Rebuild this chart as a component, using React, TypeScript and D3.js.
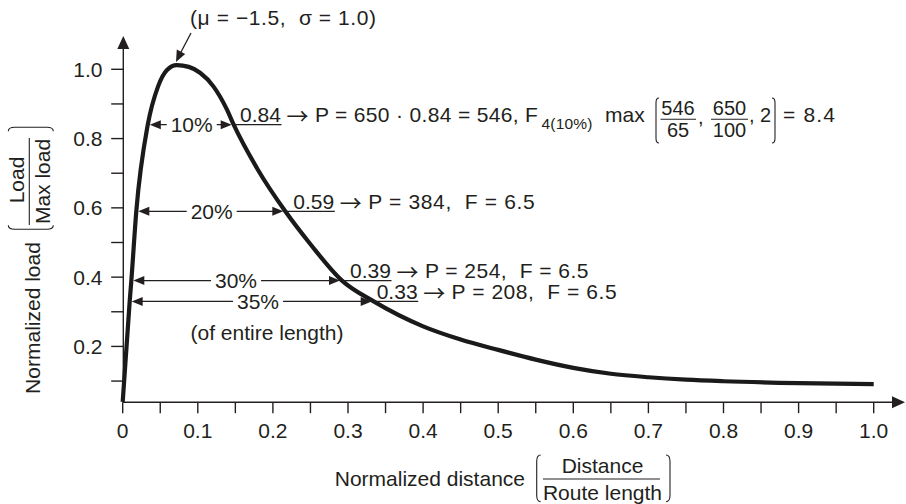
import React from 'react';
import * as d3 from 'd3';

// ---------- data ----------
const curveX = [0, 0.0093, 0.0115, 0.0181, 0.0334, 0.047, 0.059, 0.072, 0.088, 0.103, 0.121, 0.1385, 0.1478, 0.18, 0.2165, 0.25, 0.292, 0.3342, 0.4, 0.45, 0.5, 0.55, 0.6, 0.65, 0.7, 0.75, 0.8, 0.9, 1.0];
const curveY = [0.04, 0.33, 0.39, 0.59, 0.84, 0.95, 0.998, 1.012, 1.007, 0.99, 0.95, 0.885, 0.84, 0.71, 0.59, 0.495, 0.39, 0.33, 0.258, 0.22, 0.19, 0.162, 0.138, 0.121, 0.111, 0.104, 0.0995, 0.094, 0.091];

const xTickValues = [0, 0.05, 0.1, 0.15, 0.2, 0.25, 0.3, 0.35, 0.4, 0.45, 0.5, 0.55, 0.6, 0.65, 0.7, 0.75, 0.8, 0.85, 0.9, 0.95, 1.0];
const xLabelValues = [0, 0.1, 0.2, 0.3, 0.4, 0.5, 0.6, 0.7, 0.8, 0.9, 1.0];
const xTickLabels = ['0', '0.1', '0.2', '0.3', '0.4', '0.5', '0.6', '0.7', '0.8', '0.9', '1.0'];
const yTickValues = [0.1, 0.2, 0.3, 0.4, 0.5, 0.6, 0.7, 0.8, 0.9, 1.0];
const yLabelValues = [0.2, 0.4, 0.6, 0.8, 1.0];
const yTickLabels = ['0.2', '0.4', '0.6', '0.8', '1.0'];

const rowLevels = [0.84, 0.59, 0.39, 0.33];
const rowLeft = [0.0334, 0.0181, 0.0115, 0.0093];
const rowRight = [0.1478, 0.2165, 0.292, 0.3342];
const rowPercent = ['10%', '20%', '30%', '35%'];
const rowPercentX = [0.0919, 0.1185, 0.1509, 0.1802];
const rowValueLabels = ['0.84', '0.59', '0.39', '0.33'];
const rowValueX = [0.1562, 0.2272, 0.3027, 0.3382];
const rowFormulas = ['P = 650 · 0.84 = 546, F', 'P = 384,  F = 6.5', 'P = 254,  F = 6.5', 'P = 208,  F = 6.5'];
const rowFormulaWidth = [223, 166.5, 163.5, 165];

const peakLabel = '(μ = −1.5,  σ = 1.0)';
const fracNums = ['546', '650'];
const fracDens = ['65', '100'];

// ---------- layout ----------
const W = 906, H = 504;
const x = d3.scaleLinear().domain([0, 1]).range([122.7, 873.7]);
const y = d3.scaleLinear().domain([0, 1]).range([415.7, 69.3]);
const axisValue = 0.039;
const FONT = "'Liberation Sans', Arial, Helvetica, sans-serif";
const INK = '#231f20';

const arrowPath = (tx: number, ty: number, dir: 'l' | 'r', len = 11, hw = 4.5) =>
  dir === 'l'
    ? `M${tx},${ty} L${tx + len},${ty - hw} L${tx + len},${ty + hw} Z`
    : `M${tx},${ty} L${tx - len},${ty - hw} L${tx - len},${ty + hw} Z`;

const parenPath = (xp: number, y0: number, y1: number, side: 'l' | 'r', c = 4) => {
  const s = side === 'l' ? 1 : -1;
  return `M${xp + s * c},${y0} Q${xp},${y0} ${xp},${y0 + c * 1.6} L${xp},${y1 - c * 1.6} Q${xp},${y1} ${xp + s * c},${y1}`;
};

export default function App() {
  const pts = curveX.map((v, i) => [v, curveY[i]] as [number, number]);
  const line = d3
    .line<[number, number]>()
    .x((d) => x(d[0]))
    .y((d) => y(d[1]))
    .curve(d3.curveMonotoneX);

  const ax = y(axisValue);
  const x0 = x(0);
  const r1 = y(rowLevels[0]);
  const fs = 21;

  return (
    <svg
      width={W}
      height={H}
      viewBox={`0 0 ${W} ${H}`}
      style={{ position: 'absolute', left: 0, top: 0, background: '#fff' }}
      fontFamily={FONT}
    >
      <rect x={0} y={0} width={W} height={H} fill="#fff" />

      {/* axes */}
      <g stroke={INK} strokeWidth={1.4} fill="none">
        <line x1={x0} y1={ax} x2={893} y2={ax} />
        <line x1={x0 + 0.6} y1={ax} x2={x0 + 0.6} y2={48} />
        {xTickValues.map((v) => (
          <line key={'xt' + v} x1={x(v)} x2={x(v)} y1={ax} y2={ax + 11} />
        ))}
        {yTickValues.map((v) => (
          <line key={'yt' + v} x1={x0 + 0.6} x2={x0 - 11.5} y1={y(v)} y2={y(v)} />
        ))}
      </g>
      <path d={`M905,${ax} L892,${ax - 6} L892,${ax + 6} Z`} fill={INK} />
      <path d={`M${x0 + 0.6},36 L${x0 - 5.4},49 L${x0 + 6.6},49 Z`} fill={INK} />

      {/* tick labels */}
      <g fill={INK} fontSize={fs}>
        {xLabelValues.map((v, i) => (
          <text key={'xl' + v} x={x(v)} y={438} textAnchor="middle">
            {xTickLabels[i]}
          </text>
        ))}
        {yLabelValues.map((v, i) => (
          <text key={'yl' + v} x={102.5} y={y(v) + 7.5} textAnchor="end">
            {yTickLabels[i]}
          </text>
        ))}
      </g>

      {/* x axis title */}
      <g fill={INK} fontSize={fs}>
        <text x={525} y={486} textAnchor="end">Normalized distance</text>
        <text x={602.5} y={472.7} textAnchor="middle">Distance</text>
        <text x={602.5} y={499.5} textAnchor="middle">Route length</text>
      </g>
      <g stroke={INK} strokeWidth={1.1} fill="none">
        <line x1={543} x2={660} y1={479} y2={479} />
        <path d={parenPath(536.7, 455, 501.7, 'l')} />
        <path d={parenPath(670, 455, 501.7, 'r')} />
      </g>

      {/* y axis title (rotated) */}
      <g transform="rotate(-90)">
        <g fill={INK} fontSize={fs}>
          <text x={-318} y={40} textAnchor="middle">Normalized load</text>
          <text x={-180} y={24} textAnchor="middle">Load</text>
          <text x={-181.5} y={50} textAnchor="middle">Max load</text>
        </g>
        <g stroke={INK} strokeWidth={1.1} fill="none">
          <line x1={-225} x2={-138} y1={29.3} y2={29.3} />
          <path d={parenPath(-229.3, 8.3, 53.3, 'l')} />
          <path d={parenPath(-127.3, 8.3, 53.3, 'r')} />
        </g>
      </g>

      {/* curve */}
      <path d={line(pts) || ''} fill="none" stroke="#1a1a1a" strokeWidth={4.2} strokeLinejoin="round" strokeLinecap="butt" />

      {/* peak annotation */}
      <text x={190} y={25} fontSize={fs} fill={INK} style={{ whiteSpace: 'pre' }} textLength={186} lengthAdjust="spacing">
        {peakLabel}
      </text>
      <line x1={191} y1={33} x2={180.5} y2={53} stroke={INK} strokeWidth={1.3} />
      <path d="M176,62 L176.8,49.6 L185.2,54 Z" fill={INK} />

      {/* width rows */}
      {rowLevels.map((lv, i) => {
        const ry = y(lv);
        const lt = x(rowLeft[i]) + 2;
        const rt = x(rowRight[i]) - 2;
        const cx = x(rowPercentX[i]);
        const vx = x(rowValueX[i]);
        const vEnd = vx + 41.5;
        const arX = vEnd + 5;
        return (
          <g key={'row' + i}>
            <line x1={lt + 5} x2={rt - 5} y1={ry} y2={ry} stroke={INK} strokeWidth={1.2} />
            <rect x={cx - 25} y={ry - 10} width={50} height={20} fill="#fff" />
            <path d={arrowPath(lt, ry, 'l')} fill={INK} />
            <path d={arrowPath(rt, ry, 'r')} fill={INK} />
            <text x={cx} y={ry + 7.5} fontSize={fs} fill={INK} textAnchor="middle">
              {rowPercent[i]}
            </text>
            <line x1={rt + 2} x2={vEnd} y1={ry} y2={ry} stroke={INK} strokeWidth={1.2} />
            <text x={vx} y={ry - 2.8} fontSize={fs} fill={INK}>
              {rowValueLabels[i]}
            </text>
            <text
              x={arX}
              y={ry - 0.5}
              fontFamily="'Noto Sans CJK SC', 'DejaVu Sans', sans-serif"
              fontSize={22}
              fill={INK}
            >
              →
            </text>
            <text
              x={arX + 28.4}
              y={ry - 2.8}
              fontSize={fs}
              fill={INK}
              style={{ whiteSpace: 'pre' }}
              textLength={rowFormulaWidth[i]}
              lengthAdjust="spacing"
            >
              {rowFormulas[i]}
            </text>
          </g>
        );
      })}

      <text x={267} y={340} fontSize={fs} fill={INK} textAnchor="middle">
        (of entire length)
      </text>

      {/* extra part of the 10% formula */}
      <g fill={INK}>
        <text x={541.5} y={r1 + 4.5} fontSize={15.5} textLength={51} lengthAdjust="spacing">4(10%)</text>
        <text x={605} y={r1 - 2.8} fontSize={fs}>max</text>
        <text x={678} y={r1 - 9.7} fontSize={20} textAnchor="middle">{fracNums[0]}</text>
        <text x={678} y={r1 + 12.3} fontSize={20} textAnchor="middle">{fracDens[0]}</text>
        <text x={698} y={r1 - 1} fontSize={20}>,</text>
        <text x={729.5} y={r1 - 9.7} fontSize={20} textAnchor="middle">{fracNums[1]}</text>
        <text x={729.5} y={r1 + 12.3} fontSize={20} textAnchor="middle">{fracDens[1]}</text>
        <text x={749} y={r1 - 2.8} fontSize={20} style={{ whiteSpace: 'pre' }}>, 2</text>
        <text x={783} y={r1 - 2.8} fontSize={fs} style={{ whiteSpace: 'pre' }} textLength={52} lengthAdjust="spacing">= 8.4</text>
      </g>
      <g stroke={INK} strokeWidth={1.1} fill="none">
        <line x1={660.5} x2={696} y1={r1 - 5.4} y2={r1 - 5.4} />
        <line x1={711} x2={748} y1={r1 - 5.4} y2={r1 - 5.4} />
        <path d={parenPath(656, r1 - 26.7, r1 + 18.3, 'l', 3)} />
        <path d={parenPath(775, r1 - 26.7, r1 + 18.3, 'r', 3)} />
      </g>
    </svg>
  );
}
